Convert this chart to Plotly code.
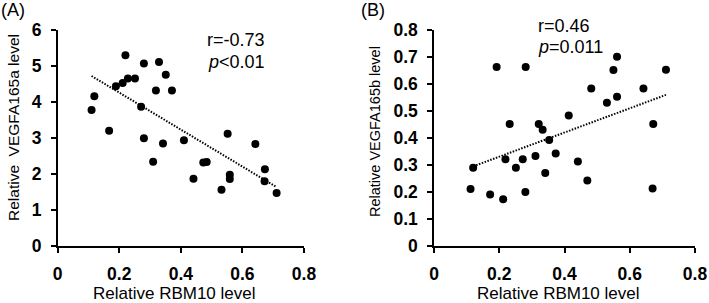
import numpy as np
import plotly.graph_objects as go

# Panel A: RBM10 vs VEGFA165a
rbm10_a = [0.110, 0.119, 0.167, 0.189, 0.211, 0.220, 0.228, 0.251, 0.271, 0.280,
           0.280, 0.319, 0.329, 0.342, 0.351, 0.371, 0.410, 0.552, 0.642, 0.310,
           0.441, 0.473, 0.484, 0.532, 0.559, 0.559, 0.673, 0.672, 0.711]
vegfa165a = [3.78, 4.16, 3.20, 4.44, 4.53, 5.30, 4.65, 4.65, 3.87, 5.07,
             2.99, 4.32, 5.11, 2.85, 4.76, 4.32, 2.94, 3.12, 2.83, 2.34,
             1.87, 2.32, 2.33, 1.56, 1.98, 1.86, 2.13, 1.80, 1.47]

# Panel B: RBM10 vs VEGFA165b
rbm10_b = [0.192, 0.281, 0.232, 0.321, 0.333, 0.353, 0.413, 0.482, 0.530, 0.550,
           0.561, 0.561, 0.642, 0.672, 0.711, 0.120, 0.112, 0.172, 0.212, 0.219,
           0.251, 0.272, 0.280, 0.311, 0.341, 0.373, 0.441, 0.470, 0.670]
vegfa165b = [0.663, 0.663, 0.452, 0.452, 0.431, 0.393, 0.483, 0.583, 0.531, 0.652,
             0.701, 0.553, 0.583, 0.452, 0.653, 0.290, 0.211, 0.191, 0.173, 0.321,
             0.290, 0.321, 0.200, 0.333, 0.270, 0.343, 0.313, 0.243, 0.213]

stats_a = ["r=-0.73", "<i>p</i>&lt;0.01"]
stats_b = ["r=0.46", "<i>p</i>=0.011"]

x_ticks = [0, 0.2, 0.4, 0.6, 0.8]
x_ticktext = ["0", "0.2", "0.4", "0.6", "0.8"]
ya_ticks = [0, 1, 2, 3, 4, 5, 6]
ya_ticktext = ["0", "1", "2", "3", "4", "5", "6"]
yb_ticks = [0, 0.1, 0.2, 0.3, 0.4, 0.5, 0.6, 0.7, 0.8]
yb_ticktext = ["0", "0.1", "0.2", "0.3", "0.4", "0.5", "0.6", "0.7", "0.8"]

W, H = 709, 303
FONT = "Arial, Liberation Sans, sans-serif"


def bold(labels):
    return ["<b>%s</b>" % t for t in labels]


def fit_line(x, y):
    x = np.asarray(x)
    y = np.asarray(y)
    k, b = np.polyfit(x, y, 1)
    xs = np.array([x.min(), x.max()])
    return xs, k * xs + b


fig = go.Figure()
marker = dict(color="black", size=8)
trend = dict(color="black", width=2, dash="1.5px,1.5px")

fig.add_trace(go.Scatter(x=rbm10_a, y=vegfa165a, mode="markers", marker=marker,
                         xaxis="x", yaxis="y", showlegend=False))
lx, ly = fit_line(rbm10_a, vegfa165a)
fig.add_trace(go.Scatter(x=lx, y=ly, mode="lines", line=trend,
                         xaxis="x", yaxis="y", showlegend=False))

fig.add_trace(go.Scatter(x=rbm10_b, y=vegfa165b, mode="markers", marker=marker,
                         xaxis="x2", yaxis="y2", showlegend=False))
lx, ly = fit_line(rbm10_b, vegfa165b)
fig.add_trace(go.Scatter(x=lx, y=ly, mode="lines", line=trend,
                         xaxis="x2", yaxis="y2", showlegend=False))

axis_common = dict(showline=True, linecolor="black", linewidth=1.5, ticks="outside",
                   ticklen=5, tickwidth=1.5, tickcolor="black", showgrid=False, zeroline=False,
                   tickfont=dict(family=FONT, size=17.5, color="black"),
                   ticklabelstandoff=6, fixedrange=True, automargin=False)

ydom = [1 - 246 / H, 1 - 30 / H]
fig.update_layout(
    template="none",
    width=W, height=H, autosize=False,
    margin=dict(l=0, r=0, t=0, b=0, pad=0, autoexpand=False),
    paper_bgcolor="white", plot_bgcolor="white",
    xaxis=dict(domain=[57.7 / W, 304 / W], range=[0, 0.8], tickvals=x_ticks,
               ticktext=bold(x_ticktext), anchor="y", **axis_common),
    yaxis=dict(domain=ydom, range=[0, 6], tickvals=ya_ticks, ticktext=bold(ya_ticktext),
               anchor="x", **axis_common),
    xaxis2=dict(domain=[434 / W, 695 / W], range=[0, 0.8], tickvals=x_ticks,
                ticktext=bold(x_ticktext), anchor="y2", **axis_common),
    yaxis2=dict(domain=ydom, range=[0, 0.8], tickvals=yb_ticks, ticktext=bold(yb_ticktext),
                anchor="x2", **axis_common),
)


def ann(text, x, y, size, xanchor="left", yanchor="middle", angle=0):
    fig.add_annotation(text=text, x=x / W, y=1 - y / H, xref="paper", yref="paper",
                       xanchor=xanchor, yanchor=yanchor, showarrow=False, textangle=angle,
                       borderpad=0, font=dict(family=FONT, size=size, color="black"))


ann("(A)", 0, 10, 18)
ann("(B)", 360, 10, 18)
ann(stats_a[0], 206, 40, 18)
ann(stats_a[1], 207, 62, 18)
ann(stats_b[0], 537, 26, 18)
ann(stats_b[1], 537, 47, 18)
ann("Relative RBM10 level", 174, 293, 17, xanchor="center")
ann("Relative RBM10 level", 558, 293, 17, xanchor="center")
ann("Relative&nbsp;&nbsp;VEGFA165a level", 13, 128, 15.5, xanchor="center", angle=-90)
ann("Relative VEGFA165b level", 375, 131, 14.5, xanchor="center", angle=-90)

fig.write_html("out.html", config={"displayModeBar": False},
               post_script="document.body.style.margin='0';document.body.style.overflow='hidden';")
